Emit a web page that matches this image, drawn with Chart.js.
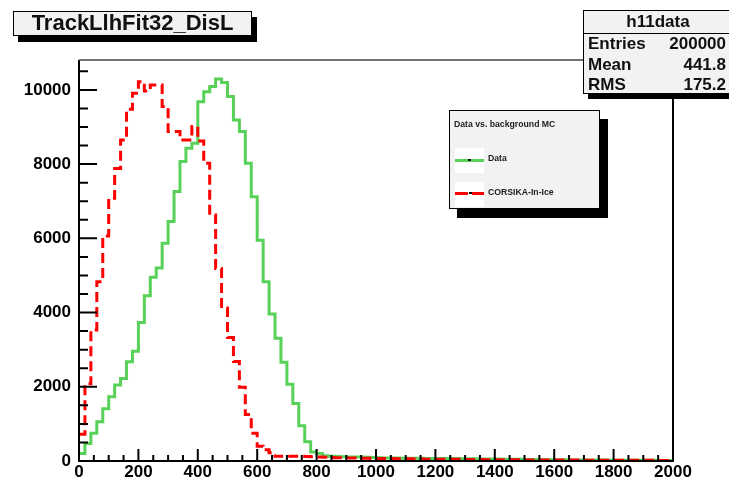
<!DOCTYPE html>
<html>
<head>
<meta charset="utf-8">
<title>TrackLlhFit32_DisL</title>
<script src="https://cdn.jsdelivr.net/npm/chart.js@4.4.0/dist/chart.umd.min.js"></script>
<style>
  body { margin: 0; background: #fff; font-family: "Liberation Sans", Arial, sans-serif; }
  #wrap { position: relative; width: 729px; height: 480px; overflow: hidden; }
  #histChart { position: absolute; left: 0; top: 0; }
  .box { position: absolute; background: #f2f2f2; border: 1.5px solid #000; box-sizing: border-box; }
  #titleBox { left: 13px; top: 11px; width: 239px; height: 25px; box-shadow: 5px 6px 0 #000;
              font-weight: bold; font-size: 22px; line-height: 22px; text-align: center; color: #111; }
  #statsBox { left: 583px; top: 10px; width: 150px; height: 84px; box-shadow: 5px 5px 0 #000;
              font-weight: bold; font-size: 17px; color: #111; }
  #statsBox .head { height: 22px; border-bottom: 1.5px solid #000; text-align: center; line-height: 22px; }
  #statsBox .row { position: absolute; left: 4px; right: 6px; height: 20px; line-height: 20px; }
  #statsBox .row span:last-child { position: absolute; right: 0; }
  #legendBox { left: 449px; top: 110px; width: 151px; height: 99px; box-shadow: 8px 9px 0 #000;
               font-weight: bold; font-size: 8.7px; color: #222; }
  #legendBox .lhead { position: absolute; left: 4px; top: 8px; }
  #legendBox .sample { position: absolute; left: 5px; width: 29px; height: 25px; background: #fff; }
  #legendBox .label { position: absolute; left: 38px; }
  .gline { position: absolute; left: 0; right: 0; top: 11px; height: 3px; background: #58d158; }
  .mark { position: absolute; left: 13px; top: 11px; width: 3px; height: 2px; background: #000; }
  .rdash { position: absolute; top: 10px; height: 3px; background: #ff0000; }
</style>
</head>
<body>
<div id="wrap">
  <canvas id="histChart" width="729" height="480"></canvas>

  <div id="titleBox" class="box">TrackLlhFit32_DisL</div>

  <div id="statsBox" class="box">
    <div class="head">h11data</div>
    <div class="row" style="top:23px"><span>Entries</span><span>200000</span></div>
    <div class="row" style="top:44px"><span>Mean</span><span>441.8</span></div>
    <div class="row" style="top:64px"><span>RMS</span><span>175.2</span></div>
  </div>

  <div id="legendBox" class="box">
    <div class="lhead">Data vs. background MC</div>
    <div class="sample" style="top:37px"><div class="gline"></div><div class="mark"></div></div>
    <div class="label" style="top:42px">Data</div>
    <div class="sample" style="top:71px">
      <div class="rdash" style="left:0; width:13px"></div>
      <div class="mark" style="left:14px; top:10px"></div>
      <div class="rdash" style="left:17px; width:12px"></div>
    </div>
    <div class="label" style="top:76px">CORSIKA-In-Ice</div>
  </div>
</div>

<script>
// Histogram binning (100 bins from 0 to 2000)
const X_MIN = 0;
const X_MAX = 2000;
const BIN_WIDTH = 20;
const Y_MAX = 10805;

// Tick labels
const xTicks = [0, 200, 400, 600, 800, 1000, 1200, 1400, 1600, 1800, 2000];
const yTicks = [0, 2000, 4000, 6000, 8000, 10000];

// Bin contents
const dataCounts = [
  200, 470, 746, 1060, 1410, 1733, 2048, 2220, 2677, 2960,
  3730, 4450, 4950, 5200, 5870, 6450, 7260, 8070, 8430, 8560,
  9680, 9950, 10090, 10290, 10200, 9820, 9190, 8880, 8020, 7120,
  5950, 4830, 3960, 3310, 2660, 2070, 1550, 950, 520, 240,
  200, 140, 125, 120, 115, 110, 110, 105, 100, 95,
  85, 80, 80, 78, 76, 75, 74, 72, 70, 70,
  68, 66, 65, 64, 62, 60, 58, 56, 55, 54,
  52, 50, 48, 46, 44, 42, 40, 38, 36, 35,
  34, 32, 30, 29, 28, 27, 26, 25, 24, 23,
  22, 21, 20, 19, 18, 18, 17, 16, 15, 15
];

const corsikaCounts = [
  720, 2080, 3530, 4830, 6060, 7080, 7880, 8650, 9480, 9910,
  10220, 9970, 10130, 10130, 9550, 8880, 8880, 8650, 8650, 9010,
  8620, 8020, 6630, 5190, 4120, 3330, 2680, 1990, 1250, 750,
  400, 300, 220, 130, 125, 125, 125, 125, 120, 115,
  110, 100, 95, 90, 85, 80, 80, 75, 75, 70,
  70, 65, 65, 60, 60, 60, 55, 55, 50, 50,
  48, 46, 45, 44, 42, 40, 40, 38, 37, 36,
  35, 34, 33, 32, 31, 30, 30, 29, 28, 27,
  26, 25, 25, 24, 23, 22, 22, 21, 21, 20,
  20, 19, 19, 18, 18, 17, 17, 16, 16, 15
];

// Turn bin contents into step points at the bin edges
function toSteps(counts) {
  const pts = counts.map((c, i) => ({ x: X_MIN + i * BIN_WIDTH, y: c }));
  pts.push({ x: X_MAX, y: counts[counts.length - 1] });
  return pts;
}

// ROOT-like frame with inward ticks
const rootFrame = {
  id: 'rootFrame',
  afterDraw(chart) {
    const { ctx, chartArea: { left, right, top, bottom }, scales: { x, y } } = chart;
    ctx.save();
    ctx.strokeStyle = '#000';
    ctx.lineWidth = 2;
    ctx.beginPath();
    ctx.moveTo(left, top);
    ctx.lineTo(left, bottom);
    ctx.lineTo(right, bottom);
    ctx.lineTo(right, top);
    ctx.stroke();
    ctx.strokeStyle = '#444';
    ctx.lineWidth = 1.5;
    ctx.beginPath();
    ctx.moveTo(left, top);
    ctx.lineTo(right, top);
    ctx.stroke();

    ctx.strokeStyle = '#000';
    ctx.lineWidth = 2;
    ctx.beginPath();
    for (let v = X_MIN; v <= X_MAX; v += 50) {
      const px = x.getPixelForValue(v);
      const len = v % 200 === 0 ? 12 : 6;
      ctx.moveTo(px, bottom);
      ctx.lineTo(px, bottom - len);
    }
    for (let v = 0; v <= Y_MAX; v += 500) {
      const py = y.getPixelForValue(v);
      const len = v % 2000 === 0 ? 18 : 9;
      ctx.moveTo(left, py);
      ctx.lineTo(left + len, py);
    }
    ctx.stroke();
    ctx.restore();
  }
};

const tickFont = { family: '"Liberation Sans", Arial, sans-serif', size: 17, weight: 'bold' };

new Chart(document.getElementById('histChart'), {
  type: 'line',
  data: {
    datasets: [
      {
        label: 'Data',
        data: toSteps(dataCounts),
        borderColor: '#58d158',
        borderWidth: 3,
        stepped: true,
        pointRadius: 0,
        fill: false,
        order: 2
      },
      {
        label: 'CORSIKA-In-Ice',
        data: toSteps(corsikaCounts),
        borderColor: '#ff0000',
        borderWidth: 3,
        borderDash: [10, 5],
        stepped: true,
        pointRadius: 0,
        fill: false,
        order: 1
      }
    ]
  },
  options: {
    responsive: false,
    animation: false,
    events: [],
    layout: { padding: { left: 0, right: 56, top: 60, bottom: 0 } },
    plugins: {
      legend: { display: false },
      tooltip: { enabled: false }
    },
    scales: {
      x: {
        type: 'linear',
        min: X_MIN,
        max: X_MAX,
        afterFit: s => { s.height = 19; },
        afterBuildTicks: s => { s.ticks = xTicks.map(v => ({ value: v })); },
        grid: { display: false, drawTicks: false },
        border: { display: false },
        ticks: { font: tickFont, color: '#000', padding: 1, maxRotation: 0, autoSkip: false,
                 callback: v => String(v) }
      },
      y: {
        type: 'linear',
        min: 0,
        max: Y_MAX,
        afterFit: s => { s.width = 79; },
        afterBuildTicks: s => { s.ticks = yTicks.map(v => ({ value: v })); },
        grid: { display: false, drawTicks: false },
        border: { display: false },
        ticks: { font: tickFont, color: '#000', padding: 8, callback: v => String(v) }
      }
    }
  },
  plugins: [rootFrame]
});
</script>
</body>
</html>
